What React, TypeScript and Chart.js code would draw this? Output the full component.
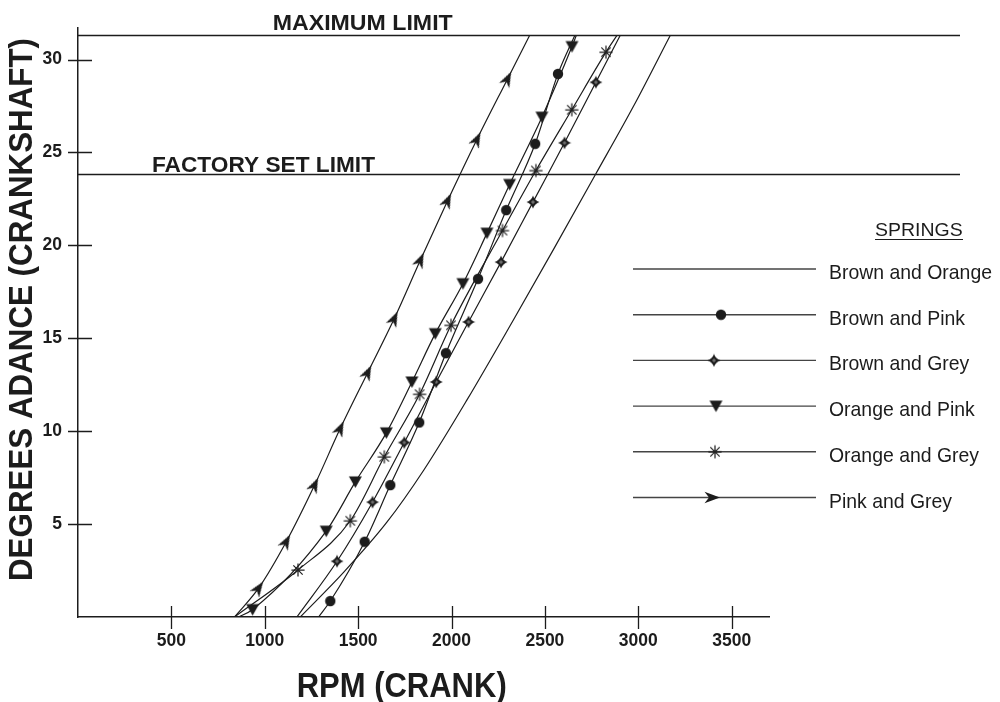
import React, { useEffect, useRef } from 'react';
import { Chart, registerables } from 'chart.js';

Chart.register(...registerables);

// ---------- data ----------
const X_TICKS = [500, 1000, 1500, 2000, 2500, 3000, 3500];
const Y_TICKS = [5, 10, 15, 20, 25, 30];
const RPM_MIN = 0;
const RPM_MAX = 3700;
const DEG_MIN = 0;
const DEG_MAX = 31.7;
const MAXIMUM_LIMIT = 31.33;
const FACTORY_SET_LIMIT = 23.83;

const X_TITLE = 'RPM (CRANK)';
const Y_TITLE = 'DEGREES ADANCE (CRANKSHAFT)';
const MAX_LABEL = 'MAXIMUM LIMIT';
const FACTORY_LABEL = 'FACTORY SET LIMIT';
const LEGEND_TITLE = 'SPRINGS';
const SERIES_NAMES = [
  'Brown and Orange',
  'Brown and Pink',
  'Brown and Grey',
  'Orange and Pink',
  'Orange and Grey',
  'Pink and Grey',
];

const brownOrangeRpm = [1190, 1422, 1654, 1851, 2082, 2332, 2547, 2770, 2975, 3171];
const brownOrangeDeg = [0, 2.4, 5.1, 7.9, 11.67, 16.0, 19.8, 23.8, 27.5, 31.3];

const brownPinkRpm = [1288, 1351, 1535, 1672, 1827, 1970, 2142, 2293, 2448, 2570, 2660];
const brownPinkDeg = [0, 0.86, 4.05, 7.1, 10.47, 14.2, 18.2, 21.9, 25.47, 29.23, 31.3];

const brownGreyRpm = [1172, 1387, 1577, 1747, 1918, 2091, 2265, 2436, 2605, 2773, 2903];
const brownGreyDeg = [0, 3.0, 6.18, 9.39, 12.65, 15.88, 19.1, 22.33, 25.52, 28.78, 31.3];

const orangePinkRpm = [860, 935, 1329, 1485, 1651, 1788, 1913, 2061, 2190, 2311, 2484, 2645, 2668];
const orangePinkDeg = [0, 0.4, 4.62, 7.27, 9.91, 12.65, 15.25, 17.94, 20.66, 23.28, 26.9, 30.7, 31.3];

const orangeGreyRpm = [838, 1178, 1458, 1640, 1829, 1997, 2273, 2452, 2644, 2827, 2886];
const orangeGreyDeg = [0, 2.53, 5.18, 8.62, 11.99, 15.7, 20.8, 24.03, 27.3, 30.4, 31.3];

const pinkGreyRpm = [838, 967, 1115, 1267, 1404, 1551, 1693, 1833, 1979, 2136, 2300, 2418];
const pinkGreyDeg = [0, 1.55, 4.05, 7.1, 10.14, 13.15, 16.05, 19.2, 22.4, 25.7, 28.96, 31.3];

// ---------- styles ----------
const INK = '#1c1c1c';
const FONT = "'Liberation Sans', Arial, Helvetica, sans-serif";

type MarkerKind = 'none' | 'circle' | 'diamond' | 'triangle' | 'asterisk' | 'arrow';

function makeCanvas(w: number, h: number, draw: (g: CanvasRenderingContext2D) => void) {
  const c = document.createElement('canvas');
  c.width = w;
  c.height = h;
  const g = c.getContext('2d') as CanvasRenderingContext2D;
  draw(g);
  return c;
}

function buildMarkers() {
  const circle = makeCanvas(12, 12, (g) => {
    g.fillStyle = INK;
    g.beginPath();
    g.arc(6, 6, 5.2, 0, Math.PI * 2);
    g.fill();
  });
  const diamond = makeCanvas(14, 14, (g) => {
    g.fillStyle = INK;
    g.beginPath();
    g.moveTo(7, 0.5);
    g.quadraticCurveTo(8.6, 5.4, 13.5, 7);
    g.quadraticCurveTo(8.6, 8.6, 7, 13.5);
    g.quadraticCurveTo(5.4, 8.6, 0.5, 7);
    g.quadraticCurveTo(5.4, 5.4, 7, 0.5);
    g.closePath();
    g.fill();
    g.beginPath();
    g.moveTo(7, 3);
    g.lineTo(11, 7);
    g.lineTo(7, 11);
    g.lineTo(3, 7);
    g.closePath();
    g.fill();
    g.strokeStyle = 'rgba(255,255,255,0.5)';
    g.lineWidth = 0.8;
    g.beginPath();
    g.moveTo(5, 7);
    g.lineTo(9, 7);
    g.moveTo(7, 5);
    g.lineTo(7, 9);
    g.stroke();
  });
  const triangle = makeCanvas(15, 14, (g) => {
    g.fillStyle = INK;
    g.beginPath();
    g.moveTo(1, 1.5);
    g.lineTo(14, 1.5);
    g.lineTo(7.5, 13);
    g.closePath();
    g.fill();
  });
  const asterisk = makeCanvas(16, 16, (g) => {
    g.strokeStyle = '#222';
    g.lineWidth = 1.25;
    g.beginPath();
    for (let k = 0; k < 4; k++) {
      const a = (k * Math.PI) / 4;
      g.moveTo(8 + 6.6 * Math.cos(a), 8 + 6.6 * Math.sin(a));
      g.lineTo(8 - 6.6 * Math.cos(a), 8 - 6.6 * Math.sin(a));
    }
    g.stroke();
  });
  const arrow = makeCanvas(18, 13, (g) => {
    g.fillStyle = INK;
    g.beginPath();
    g.moveTo(17, 6.5);
    g.lineTo(1.5, 0.8);
    g.lineTo(6, 6.5);
    g.lineTo(1.5, 12.2);
    g.closePath();
    g.fill();
  });
  return { circle, diamond, triangle, asterisk, arrow } as Record<string, HTMLCanvasElement>;
}

interface SeriesDef {
  name: string;
  rpm: number[];
  deg: number[];
  marker: MarkerKind;
  unmarkedStart: boolean;
  unmarkedEnd: boolean;
}

const SERIES: SeriesDef[] = [
  { name: SERIES_NAMES[0], rpm: brownOrangeRpm, deg: brownOrangeDeg, marker: 'none', unmarkedStart: true, unmarkedEnd: true },
  { name: SERIES_NAMES[1], rpm: brownPinkRpm, deg: brownPinkDeg, marker: 'circle', unmarkedStart: true, unmarkedEnd: true },
  { name: SERIES_NAMES[2], rpm: brownGreyRpm, deg: brownGreyDeg, marker: 'diamond', unmarkedStart: true, unmarkedEnd: true },
  { name: SERIES_NAMES[3], rpm: orangePinkRpm, deg: orangePinkDeg, marker: 'triangle', unmarkedStart: true, unmarkedEnd: true },
  { name: SERIES_NAMES[4], rpm: orangeGreyRpm, deg: orangeGreyDeg, marker: 'asterisk', unmarkedStart: true, unmarkedEnd: true },
  { name: SERIES_NAMES[5], rpm: pinkGreyRpm, deg: pinkGreyDeg, marker: 'arrow', unmarkedStart: true, unmarkedEnd: true },
];

// legend layout
const LEGEND_LINE_X0 = 633;
const LEGEND_LINE_X1 = 816;
const LEGEND_ROW0 = 269;
const LEGEND_ROW_GAP = 45.7;
const LEGEND_MARKER_X: Record<string, number> = {
  none: 0, circle: 721, diamond: 714, triangle: 716, asterisk: 715, arrow: 712,
};

function fitText(
  ctx: CanvasRenderingContext2D,
  text: string,
  x: number,
  y: number,
  font: string,
  width: number,
  align: CanvasTextAlign,
  baseline: CanvasTextBaseline,
) {
  ctx.save();
  ctx.font = font;
  const w = ctx.measureText(text).width;
  const s = width / w;
  ctx.translate(x, y);
  ctx.scale(s, 1);
  ctx.textAlign = align;
  ctx.textBaseline = baseline;
  ctx.fillText(text, 0, 0);
  ctx.restore();
}

export default function App() {
  const ref = useRef<HTMLCanvasElement | null>(null);

  useEffect(() => {
    const canvas = ref.current;
    if (!canvas) return;
    const markers = buildMarkers();

    const decorPlugin = {
      id: 'decor',
      afterDraw(chart: any) {
        const ctx: CanvasRenderingContext2D = chart.ctx;
        const xs = chart.scales.x;
        const ys = chart.scales.y;
        const area = chart.chartArea;
        ctx.save();
        ctx.strokeStyle = INK;
        ctx.fillStyle = INK;

        // tick marks crossing the axes
        ctx.lineWidth = 1.3;
        ctx.beginPath();
        xs.ticks.forEach((t: any) => {
          const px = Math.round(xs.getPixelForValue(t.value)) + 0.5;
          ctx.moveTo(px, area.bottom - 11);
          ctx.lineTo(px, area.bottom + 12);
        });
        ys.ticks.forEach((t: any) => {
          const py = Math.round(ys.getPixelForValue(t.value)) + 0.5;
          ctx.moveTo(area.left - 10, py);
          ctx.lineTo(area.left + 14, py);
        });
        ctx.stroke();

        // limit lines
        ctx.lineWidth = 1.3;
        ctx.beginPath();
        [MAXIMUM_LIMIT, FACTORY_SET_LIMIT].forEach((v) => {
          const py = Math.round(ys.getPixelForValue(v)) + 0.5;
          ctx.moveTo(area.left, py);
          ctx.lineTo(960, py);
        });
        ctx.stroke();
        const yMax = ys.getPixelForValue(MAXIMUM_LIMIT);
        const yFac = ys.getPixelForValue(FACTORY_SET_LIMIT);
        fitText(ctx, MAX_LABEL, 272.7, yMax - 4.5, `bold 22.5px ${FONT}`, 180, 'left', 'alphabetic');
        fitText(ctx, FACTORY_LABEL, 152, yFac - 2.5, `bold 22.5px ${FONT}`, 223, 'left', 'alphabetic');

        // axis titles
        fitText(ctx, X_TITLE, 401.7, 687.7, `bold 35px ${FONT}`, 210, 'center', 'middle');
        ctx.save();
        ctx.translate(23.5, 309.5);
        ctx.rotate(-Math.PI / 2);
        fitText(ctx, Y_TITLE, 0, 0, `bold 32.5px ${FONT}`, 543, 'center', 'middle');
        ctx.restore();

        // legend
        fitText(ctx, LEGEND_TITLE, 875, 235.7, `19px ${FONT}`, 87.7, 'left', 'alphabetic');
        ctx.lineWidth = 1;
        ctx.beginPath();
        ctx.moveTo(875, 239.5);
        ctx.lineTo(963, 239.5);
        ctx.stroke();

        ctx.font = `21px ${FONT}`;
        const refW = ctx.measureText(SERIES_NAMES[0]).width;
        const textScale = 163 / refW;
        SERIES.forEach((s, i) => {
          const y = LEGEND_ROW0 + i * LEGEND_ROW_GAP;
          ctx.strokeStyle = '#444';
          ctx.lineWidth = 1.4;
          ctx.beginPath();
          ctx.moveTo(LEGEND_LINE_X0, y);
          ctx.lineTo(LEGEND_LINE_X1, y);
          ctx.stroke();
          if (s.marker !== 'none') {
            const m = markers[s.marker];
            const mx = LEGEND_MARKER_X[s.marker];
            ctx.drawImage(m, mx - m.width / 2, y - m.height / 2);
          }
          ctx.save();
          ctx.fillStyle = INK;
          ctx.font = `21px ${FONT}`;
          ctx.textAlign = 'left';
          ctx.textBaseline = 'alphabetic';
          ctx.translate(829, y + 10);
          ctx.scale(textScale, 1);
          ctx.fillText(s.name, 0, 0);
          ctx.restore();
        });
        ctx.restore();
      },
    };

    const datasets = SERIES.map((s) => {
      const n = s.rpm.length;
      return {
        label: s.name,
        data: s.rpm.map((x, i) => ({ x, y: s.deg[i] })),
        borderColor: INK,
        borderWidth: 1.2,
        backgroundColor: INK,
        fill: false,
        cubicInterpolationMode: 'monotone' as const,
        pointStyle: s.marker === 'none' ? 'circle' : markers[s.marker],
        pointBorderWidth: 0,
        pointRadius: (c: any) => {
          if (s.marker === 'none') return 0;
          const i = c.dataIndex;
          if (i === 0 && s.unmarkedStart) return 0;
          if (i === n - 1 && s.unmarkedEnd) return 0;
          return 5;
        },
        pointHoverRadius: 0,
        rotation: (c: any) => {
          if (s.marker !== 'arrow' || c.dataIndex === undefined) return 0;
          const i = c.dataIndex;
          const a = Math.max(0, i - 1);
          const b = Math.min(n - 1, i + 1);
          const xs = c.chart.scales.x;
          const ys = c.chart.scales.y;
          const dx = xs.getPixelForValue(s.rpm[b]) - xs.getPixelForValue(s.rpm[a]);
          const dy = ys.getPixelForValue(s.deg[b]) - ys.getPixelForValue(s.deg[a]);
          return (Math.atan2(dy, dx) * 180) / Math.PI;
        },
      };
    });

    const tickFont = { family: FONT, size: 17.5, weight: 'bold' as const };

    const chart = new Chart(canvas, {
      type: 'line',
      data: { datasets: datasets as any },
      options: {
        animation: false,
        responsive: false,
        events: [],
        layout: { padding: { top: 28, right: 231, left: 0, bottom: 0 } },
        plugins: {
          legend: { display: false },
          tooltip: { enabled: false },
          title: { display: false },
        },
        scales: {
          x: {
            type: 'linear',
            min: RPM_MIN,
            max: RPM_MAX,
            afterBuildTicks: (s: any) => {
              s.ticks = X_TICKS.map((v) => ({ value: v }));
            },
            afterFit: (s: any) => {
              s.height = 85;
            },
            grid: { display: false, drawTicks: false },
            border: { display: true, color: INK, width: 1.5 },
            ticks: {
              padding: 14,
              color: INK,
              font: tickFont,
              maxRotation: 0,
              autoSkip: false,
              callback: (v: any) => String(v),
            },
          },
          y: {
            type: 'linear',
            min: DEG_MIN,
            max: DEG_MAX,
            afterBuildTicks: (s: any) => {
              s.ticks = Y_TICKS.map((v) => ({ value: v }));
            },
            afterFit: (s: any) => {
              s.width = 78;
            },
            grid: { display: false, drawTicks: false },
            border: { display: true, color: INK, width: 1.5 },
            ticks: {
              padding: 16,
              color: INK,
              font: tickFont,
              autoSkip: false,
              callback: (v: any) => String(v),
            },
          },
        },
      } as any,
      plugins: [decorPlugin],
    });

    return () => chart.destroy();
  }, []);

  return (
    <div style={{ position: 'absolute', left: 0, top: 0, width: 1000, height: 702, background: '#fff' }}>
      <canvas ref={ref} width={1000} height={702} style={{ display: 'block', width: 1000, height: 702 }} />
    </div>
  );
}
